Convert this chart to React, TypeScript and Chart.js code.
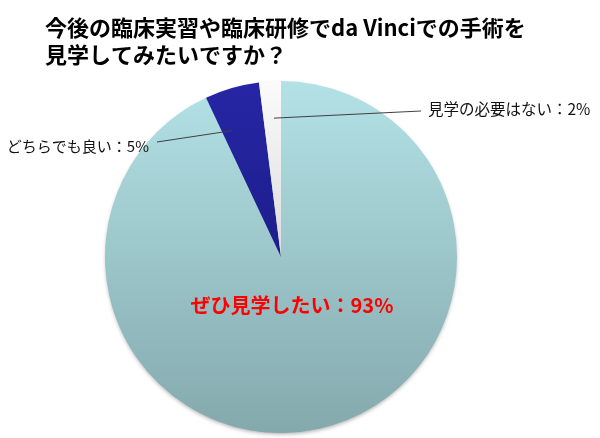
import React, { useEffect, useRef } from 'react';
import { Chart, registerables } from 'chart.js';

Chart.register(...registerables);

const titleLines = ['今後の臨床実習や臨床研修でda Vinciでの手術を', '見学してみたいですか？'];
const answers = ['ぜひ見学したい', 'どちらでも良い', '見学の必要はない'];
const shares = [93, 5, 2];

// slice colours, top and bottom of the vertical gradient
const topColours = ['#b3e2e6', '#2626a6', '#fbfbfb'];
const bottomColours = ['#84a9ad', '#141470', '#bcbcbc'];

const FONT = '"Noto Sans CJK JP", "Noto Sans", sans-serif';

// where each label sits, relative to the pie centre
const labelSpots = [
  { index: 0, tx: 11, ty: 48, align: 'center', size: 20, bold: true, colour: '#ff0000' },
  { index: 1, tx: -132, ty: -111, align: 'right', size: 15, bold: false, colour: '#111111',
    along: 0.22, radial: 0.77, lx: -124, ly: -115 },
  { index: 2, tx: 147, ty: -148, align: 'left', size: 15.5, bold: false, colour: '#111111',
    along: 0.6, radial: 0.79, lx: 140, ly: -146 },
];

const annotate = {
  id: 'annotate',
  beforeDatasetsDraw(chart: any) {
    const arc = chart.getDatasetMeta(0).data[0];
    if (!arc) return;
    const { x, y, outerRadius } = arc.getProps(['x', 'y', 'outerRadius'], true);
    const ctx = chart.ctx;
    ctx.save();
    ctx.shadowColor = 'rgba(0,0,0,0.35)';
    ctx.shadowBlur = 4;
    ctx.shadowOffsetY = 2;
    ctx.fillStyle = '#9cc2c6';
    ctx.beginPath();
    ctx.arc(x, y, outerRadius - 1, 0, Math.PI * 2);
    ctx.fill();
    ctx.restore();
  },
  afterDraw(chart: any) {
    const ctx = chart.ctx;
    const arcs = chart.getDatasetMeta(0).data;
    const { x, y, outerRadius } = arcs[0].getProps(['x', 'y', 'outerRadius'], true);

    ctx.save();
    // title
    ctx.fillStyle = '#000';
    ctx.font = `bold 22px ${FONT}`;
    ctx.textAlign = 'left';
    ctx.textBaseline = 'middle';
    ctx.fillText(titleLines[0], 45, 28);
    ctx.fillText(titleLines[1], 45, 55);

    labelSpots.forEach((s) => {
      const el = arcs[s.index];
      if (s.along !== undefined) {
        const { startAngle, endAngle } = el.getProps(['startAngle', 'endAngle'], true);
        const a = startAngle + (endAngle - startAngle) * s.along;
        const r = outerRadius * (s.radial as number);
        ctx.strokeStyle = '#404040';
        ctx.lineWidth = 1;
        ctx.beginPath();
        ctx.moveTo(x + Math.cos(a) * r, y + Math.sin(a) * r);
        ctx.lineTo(x + (s.lx as number), y + (s.ly as number));
        ctx.stroke();
      }
      ctx.fillStyle = s.colour;
      ctx.font = `${s.bold ? 'bold ' : ''}${s.size}px ${FONT}`;
      ctx.textAlign = s.align as CanvasTextAlign;
      ctx.fillText(`${answers[s.index]}：${shares[s.index]}%`, x + s.tx, y + s.ty);
    });
    ctx.restore();
  },
};

const App: React.FC = () => {
  const chartRef = useRef<HTMLCanvasElement>(null);
  const chartInstance = useRef<Chart | null>(null);

  useEffect(() => {
    if (!chartRef.current) return;
    const ctx = chartRef.current.getContext('2d');
    if (!ctx) return;

    chartInstance.current = new Chart(ctx, {
      type: 'pie',
      data: {
        labels: answers,
        datasets: [
          {
            data: shares,
            borderWidth: 0,
            backgroundColor: (c: any) => {
              const area = c.chart.chartArea;
              if (!area) return topColours[c.dataIndex];
              const g = c.chart.ctx.createLinearGradient(0, area.top, 0, area.bottom);
              g.addColorStop(0, topColours[c.dataIndex]);
              g.addColorStop(1, bottomColours[c.dataIndex]);
              return g;
            },
          },
        ],
      },
      options: {
        animation: false,
        responsive: true,
        maintainAspectRatio: false,
        events: [],
        layout: { padding: { top: 81, bottom: 5, left: 105, right: 143 } },
        plugins: {
          legend: { display: false },
          tooltip: { enabled: false },
          title: { display: false },
        },
      },
      plugins: [annotate],
    });

    return () => {
      if (chartInstance.current) {
        chartInstance.current.destroy();
        chartInstance.current = null;
      }
    };
  }, []);

  return (
    <div style={{ position: 'absolute', left: 0, top: 0, width: 600, height: 438, background: '#fff' }}>
      <canvas ref={chartRef} />
    </div>
  );
};

export default App;
